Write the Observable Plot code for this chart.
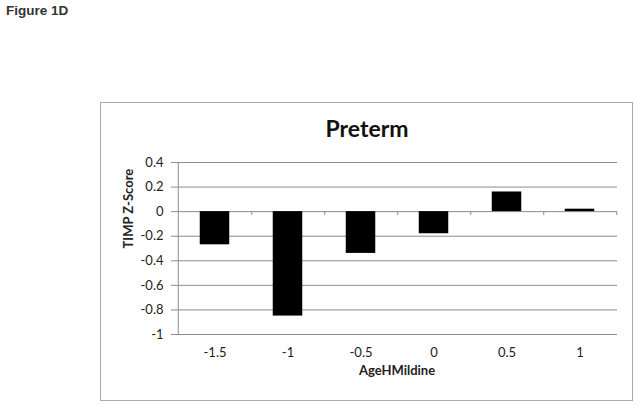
<!DOCTYPE html>
<html>
<head>
<meta charset="utf-8">
<script src="https://cdn.jsdelivr.net/npm/d3@7"></script>
<script src="https://cdn.jsdelivr.net/npm/@observablehq/plot@0.6"></script>
<style>
  html, body { margin: 0; padding: 0; background: #fff; }
  #wrap { position: relative; width: 639px; height: 407px; overflow: hidden; }
  #chart { position: absolute; left: 0; top: 0; }
  #fig { position: absolute; left: 6px; top: 3px; font: bold 13.5px "Liberation Sans", Arial, sans-serif; color: #333; }
  #frame { position: absolute; left: 100px; top: 102px; width: 531px; height: 297px; border: 1.5px solid #aaa; }
  #title { position: absolute; left: 100px; top: 114px; width: 534px; text-align: center; font: bold 23px Lato, sans-serif; color: #111; }
</style>
</head>
<body>
<div id="wrap">
  <div id="fig">Figure 1D</div>
  <div id="frame"></div>
  <div id="title">Preterm</div>
  <div id="chart"></div>
</div>
<script>
const categories = ["-1.5", "-1", "-0.5", "0", "0.5", "1"];
const zScores = [-0.27, -0.85, -0.34, -0.18, 0.16, 0.02];
const yTicks = [0.4, 0.2, 0, -0.2, -0.4, -0.6, -0.8, -1];
const xLabel = "AgeHMildine";
const yLabel = "TIMP Z-Score";

const data = categories.map((c, i) => ({age: c, z: zScores[i]}));
const grid = "#8c8c8c";
const bw = (617 - 176) / categories.length;

const chart = Plot.plot({
  width: 639,
  height: 407,
  marginLeft: 176,
  marginRight: 22,
  marginTop: 162,
  marginBottom: 73,
  style: {fontFamily: "Lato, sans-serif", fontSize: "13px", color: "#222", background: "transparent", overflow: "visible"},
  x: {domain: categories, padding: 0, label: null},
  y: {domain: [-1, 0.4], label: null},
  marks: [
    Plot.ruleY(yTicks, {stroke: grid, strokeWidth: 1}),
    Plot.ruleX([categories[0]], {dx: -bw / 2, stroke: grid}),
    Plot.barY(data, {x: "age", y: "z", fill: "black", insetLeft: 21.75, insetRight: 21.75}),
    Plot.ruleX(categories, {y1: 0, y2: -0.032, dx: bw / 2, stroke: grid}),
    Plot.axisY({ticks: yTicks, tickSize: 5, tickPadding: 8, stroke: grid, fill: "#222", fontSize: 13,
      tickFormat: d => String(+d.toFixed(1)), label: null}),
    Plot.axisX({tickSize: 0, tickPadding: 13, fill: "#222", fontSize: 13, label: null}),
    Plot.text([yLabel], {frameAnchor: "left", dx: -48, rotate: -90, fontWeight: "bold", fontSize: 13, fill: "#222"}),
    Plot.text([xLabel], {frameAnchor: "bottom", dy: 40, fontWeight: "bold", fontSize: 13, fill: "#222"})
  ]
});
document.getElementById("chart").appendChild(chart);
</script>
</body>
</html>
